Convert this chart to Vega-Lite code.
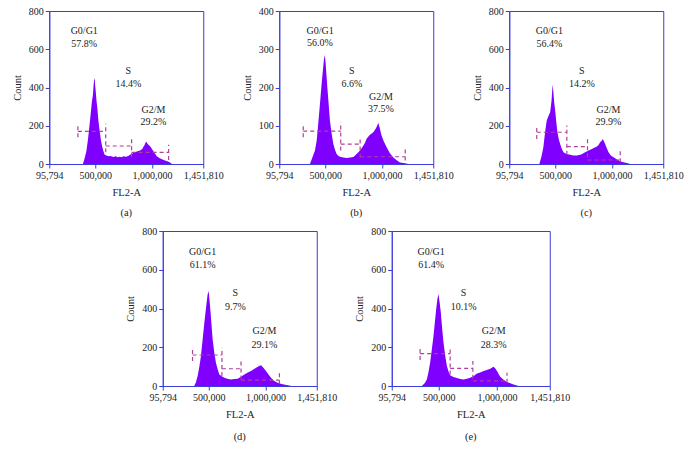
{
  "$schema": "https://vega.github.io/schema/vega-lite/v6.json",
  "description": "Cell cycle histograms, five samples",
  "padding": {"left": 11, "top": 5, "right": 5, "bottom": 5},
  "datasets": {
    "hist": [
      {"p": "a", "x": 392000, "y": 0}, {"p": "a", "x": 405000, "y": 25}, {"p": "a", "x": 422000, "y": 66}, {"p": "a", "x": 437000, "y": 130},
      {"p": "a", "x": 451000, "y": 206}, {"p": "a", "x": 462000, "y": 270}, {"p": "a", "x": 472000, "y": 329}, {"p": "a", "x": 480000, "y": 360},
      {"p": "a", "x": 486000, "y": 410}, {"p": "a", "x": 491000, "y": 440}, {"p": "a", "x": 495000, "y": 450}, {"p": "a", "x": 499000, "y": 420},
      {"p": "a", "x": 505000, "y": 380}, {"p": "a", "x": 512000, "y": 330}, {"p": "a", "x": 519000, "y": 294}, {"p": "a", "x": 528000, "y": 230},
      {"p": "a", "x": 540000, "y": 171}, {"p": "a", "x": 550000, "y": 128}, {"p": "a", "x": 561000, "y": 93}, {"p": "a", "x": 572000, "y": 68},
      {"p": "a", "x": 584000, "y": 49}, {"p": "a", "x": 600000, "y": 45}, {"p": "a", "x": 615000, "y": 40}, {"p": "a", "x": 630000, "y": 42},
      {"p": "a", "x": 643000, "y": 40}, {"p": "a", "x": 660000, "y": 36}, {"p": "a", "x": 680000, "y": 40}, {"p": "a", "x": 700000, "y": 35},
      {"p": "a", "x": 716000, "y": 38}, {"p": "a", "x": 732000, "y": 35}, {"p": "a", "x": 750000, "y": 40}, {"p": "a", "x": 770000, "y": 38},
      {"p": "a", "x": 792000, "y": 42}, {"p": "a", "x": 810000, "y": 50}, {"p": "a", "x": 836000, "y": 58}, {"p": "a", "x": 860000, "y": 64},
      {"p": "a", "x": 880000, "y": 68}, {"p": "a", "x": 895000, "y": 70}, {"p": "a", "x": 915000, "y": 78}, {"p": "a", "x": 925000, "y": 90},
      {"p": "a", "x": 934000, "y": 98}, {"p": "a", "x": 944000, "y": 112}, {"p": "a", "x": 954000, "y": 115}, {"p": "a", "x": 962000, "y": 105},
      {"p": "a", "x": 975000, "y": 98}, {"p": "a", "x": 987000, "y": 90}, {"p": "a", "x": 999000, "y": 80}, {"p": "a", "x": 1020000, "y": 60},
      {"p": "a", "x": 1043000, "y": 40}, {"p": "a", "x": 1065000, "y": 32}, {"p": "a", "x": 1088000, "y": 25}, {"p": "a", "x": 1115000, "y": 18},
      {"p": "a", "x": 1147000, "y": 12}, {"p": "a", "x": 1165000, "y": 5}, {"p": "a", "x": 1176000, "y": 0},

      {"p": "b", "x": 366000, "y": 0}, {"p": "b", "x": 385000, "y": 15}, {"p": "b", "x": 410000, "y": 35}, {"p": "b", "x": 425000, "y": 60},
      {"p": "b", "x": 439000, "y": 105}, {"p": "b", "x": 452000, "y": 150}, {"p": "b", "x": 469000, "y": 210}, {"p": "b", "x": 480000, "y": 245},
      {"p": "b", "x": 490000, "y": 275}, {"p": "b", "x": 498000, "y": 284}, {"p": "b", "x": 505000, "y": 260}, {"p": "b", "x": 512000, "y": 230},
      {"p": "b", "x": 519000, "y": 201}, {"p": "b", "x": 530000, "y": 160}, {"p": "b", "x": 542000, "y": 113}, {"p": "b", "x": 557000, "y": 80},
      {"p": "b", "x": 572000, "y": 52}, {"p": "b", "x": 588000, "y": 36}, {"p": "b", "x": 601000, "y": 26}, {"p": "b", "x": 620000, "y": 20},
      {"p": "b", "x": 640000, "y": 18}, {"p": "b", "x": 660000, "y": 17}, {"p": "b", "x": 690000, "y": 16}, {"p": "b", "x": 720000, "y": 17},
      {"p": "b", "x": 748000, "y": 18}, {"p": "b", "x": 770000, "y": 24}, {"p": "b", "x": 790000, "y": 30}, {"p": "b", "x": 807000, "y": 35},
      {"p": "b", "x": 830000, "y": 45}, {"p": "b", "x": 850000, "y": 55}, {"p": "b", "x": 865000, "y": 66}, {"p": "b", "x": 890000, "y": 75},
      {"p": "b", "x": 910000, "y": 80}, {"p": "b", "x": 924000, "y": 83}, {"p": "b", "x": 945000, "y": 92}, {"p": "b", "x": 958000, "y": 100},
      {"p": "b", "x": 968000, "y": 108}, {"p": "b", "x": 980000, "y": 95}, {"p": "b", "x": 997000, "y": 74}, {"p": "b", "x": 1015000, "y": 60},
      {"p": "b", "x": 1041000, "y": 44}, {"p": "b", "x": 1070000, "y": 28}, {"p": "b", "x": 1100000, "y": 17}, {"p": "b", "x": 1130000, "y": 10},
      {"p": "b", "x": 1159000, "y": 4}, {"p": "b", "x": 1203000, "y": 2}, {"p": "b", "x": 1232000, "y": 0},

      {"p": "c", "x": 361000, "y": 0}, {"p": "c", "x": 380000, "y": 40}, {"p": "c", "x": 396000, "y": 87}, {"p": "c", "x": 412000, "y": 170},
      {"p": "c", "x": 426000, "y": 227}, {"p": "c", "x": 440000, "y": 250}, {"p": "c", "x": 456000, "y": 271}, {"p": "c", "x": 468000, "y": 330},
      {"p": "c", "x": 474000, "y": 385}, {"p": "c", "x": 479000, "y": 415}, {"p": "c", "x": 485000, "y": 370}, {"p": "c", "x": 492000, "y": 320},
      {"p": "c", "x": 500000, "y": 280}, {"p": "c", "x": 510000, "y": 220}, {"p": "c", "x": 520000, "y": 166}, {"p": "c", "x": 532000, "y": 130},
      {"p": "c", "x": 544000, "y": 105}, {"p": "c", "x": 558000, "y": 80}, {"p": "c", "x": 573000, "y": 61}, {"p": "c", "x": 600000, "y": 52},
      {"p": "c", "x": 632000, "y": 49}, {"p": "c", "x": 660000, "y": 45}, {"p": "c", "x": 691000, "y": 44}, {"p": "c", "x": 730000, "y": 50},
      {"p": "c", "x": 764000, "y": 61}, {"p": "c", "x": 795000, "y": 70}, {"p": "c", "x": 823000, "y": 79}, {"p": "c", "x": 845000, "y": 85},
      {"p": "c", "x": 867000, "y": 91}, {"p": "c", "x": 882000, "y": 100}, {"p": "c", "x": 896000, "y": 114}, {"p": "c", "x": 910000, "y": 122},
      {"p": "c", "x": 920000, "y": 131}, {"p": "c", "x": 930000, "y": 118}, {"p": "c", "x": 940000, "y": 105}, {"p": "c", "x": 955000, "y": 82},
      {"p": "c", "x": 970000, "y": 61}, {"p": "c", "x": 990000, "y": 45}, {"p": "c", "x": 1014000, "y": 35}, {"p": "c", "x": 1045000, "y": 24},
      {"p": "c", "x": 1073000, "y": 14}, {"p": "c", "x": 1100000, "y": 9}, {"p": "c", "x": 1132000, "y": 5}, {"p": "c", "x": 1161000, "y": 0},

      {"p": "d", "x": 373000, "y": 0}, {"p": "d", "x": 388000, "y": 20}, {"p": "d", "x": 403000, "y": 52}, {"p": "d", "x": 418000, "y": 100},
      {"p": "d", "x": 432000, "y": 155}, {"p": "d", "x": 447000, "y": 240}, {"p": "d", "x": 462000, "y": 327}, {"p": "d", "x": 472000, "y": 380},
      {"p": "d", "x": 482000, "y": 430}, {"p": "d", "x": 490000, "y": 470}, {"p": "d", "x": 500000, "y": 490}, {"p": "d", "x": 508000, "y": 440},
      {"p": "d", "x": 517000, "y": 379}, {"p": "d", "x": 526000, "y": 310}, {"p": "d", "x": 535000, "y": 241}, {"p": "d", "x": 550000, "y": 170},
      {"p": "d", "x": 564000, "y": 120}, {"p": "d", "x": 580000, "y": 85}, {"p": "d", "x": 594000, "y": 60}, {"p": "d", "x": 615000, "y": 50},
      {"p": "d", "x": 638000, "y": 43}, {"p": "d", "x": 665000, "y": 38}, {"p": "d", "x": 696000, "y": 34}, {"p": "d", "x": 725000, "y": 36},
      {"p": "d", "x": 755000, "y": 38}, {"p": "d", "x": 785000, "y": 48}, {"p": "d", "x": 814000, "y": 60}, {"p": "d", "x": 845000, "y": 70},
      {"p": "d", "x": 873000, "y": 77}, {"p": "d", "x": 900000, "y": 88}, {"p": "d", "x": 932000, "y": 100}, {"p": "d", "x": 950000, "y": 105},
      {"p": "d", "x": 961000, "y": 107}, {"p": "d", "x": 980000, "y": 95}, {"p": "d", "x": 1005000, "y": 77}, {"p": "d", "x": 1027000, "y": 60},
      {"p": "d", "x": 1049000, "y": 43}, {"p": "d", "x": 1070000, "y": 30}, {"p": "d", "x": 1093000, "y": 21}, {"p": "d", "x": 1120000, "y": 14},
      {"p": "d", "x": 1152000, "y": 9}, {"p": "d", "x": 1185000, "y": 5}, {"p": "d", "x": 1211000, "y": 3}, {"p": "d", "x": 1226000, "y": 0},

      {"p": "e", "x": 354000, "y": 0}, {"p": "e", "x": 380000, "y": 15}, {"p": "e", "x": 397000, "y": 34}, {"p": "e", "x": 412000, "y": 75},
      {"p": "e", "x": 425000, "y": 120}, {"p": "e", "x": 440000, "y": 190}, {"p": "e", "x": 454000, "y": 258}, {"p": "e", "x": 466000, "y": 330},
      {"p": "e", "x": 477000, "y": 396}, {"p": "e", "x": 488000, "y": 450}, {"p": "e", "x": 497000, "y": 475}, {"p": "e", "x": 507000, "y": 430},
      {"p": "e", "x": 517000, "y": 379}, {"p": "e", "x": 528000, "y": 300}, {"p": "e", "x": 540000, "y": 224}, {"p": "e", "x": 555000, "y": 155},
      {"p": "e", "x": 569000, "y": 103}, {"p": "e", "x": 583000, "y": 75}, {"p": "e", "x": 597000, "y": 55}, {"p": "e", "x": 625000, "y": 46},
      {"p": "e", "x": 655000, "y": 41}, {"p": "e", "x": 685000, "y": 36}, {"p": "e", "x": 712000, "y": 34}, {"p": "e", "x": 740000, "y": 38},
      {"p": "e", "x": 769000, "y": 43}, {"p": "e", "x": 800000, "y": 52}, {"p": "e", "x": 827000, "y": 65}, {"p": "e", "x": 855000, "y": 70},
      {"p": "e", "x": 884000, "y": 77}, {"p": "e", "x": 912000, "y": 82}, {"p": "e", "x": 941000, "y": 89}, {"p": "e", "x": 958000, "y": 95},
      {"p": "e", "x": 970000, "y": 100}, {"p": "e", "x": 985000, "y": 90}, {"p": "e", "x": 999000, "y": 77}, {"p": "e", "x": 1013000, "y": 62},
      {"p": "e", "x": 1027000, "y": 48}, {"p": "e", "x": 1048000, "y": 36}, {"p": "e", "x": 1070000, "y": 26}, {"p": "e", "x": 1090000, "y": 20},
      {"p": "e", "x": 1113000, "y": 14}, {"p": "e", "x": 1135000, "y": 9}, {"p": "e", "x": 1156000, "y": 5}, {"p": "e", "x": 1185000, "y": 0}
    ],
    "gates": [
      {"p": "a", "x": 348000, "x2": 593000, "y": 171, "y2": 171}, {"p": "a", "x": 348000, "x2": 348000, "y": 140, "y2": 210},
      {"p": "a", "x": 593000, "x2": 593000, "y": 61, "y2": 210}, {"p": "a", "x": 593000, "x2": 821000, "y": 94, "y2": 94},
      {"p": "a", "x": 821000, "x2": 821000, "y": 35, "y2": 136}, {"p": "a", "x": 821000, "x2": 1147000, "y": 61, "y2": 61},
      {"p": "a", "x": 1147000, "x2": 1147000, "y": 21, "y2": 101},

      {"p": "b", "x": 307000, "x2": 637000, "y": 86, "y2": 86}, {"p": "b", "x": 307000, "x2": 307000, "y": 70, "y2": 105},
      {"p": "b", "x": 637000, "x2": 637000, "y": 35, "y2": 109}, {"p": "b", "x": 637000, "x2": 808000, "y": 52, "y2": 52},
      {"p": "b", "x": 808000, "x2": 808000, "y": 17, "y2": 70}, {"p": "b", "x": 808000, "x2": 1205000, "y": 19, "y2": 19},
      {"p": "b", "x": 1205000, "x2": 1205000, "y": 9, "y2": 39},

      {"p": "c", "x": 338000, "x2": 603000, "y": 166, "y2": 166}, {"p": "c", "x": 338000, "x2": 338000, "y": 131, "y2": 201},
      {"p": "c", "x": 603000, "x2": 603000, "y": 49, "y2": 201}, {"p": "c", "x": 603000, "x2": 785000, "y": 91, "y2": 91},
      {"p": "c", "x": 785000, "x2": 785000, "y": 35, "y2": 131}, {"p": "c", "x": 785000, "x2": 1073000, "y": 21, "y2": 21},
      {"p": "c", "x": 1073000, "x2": 1073000, "y": 9, "y2": 70},

      {"p": "d", "x": 358000, "x2": 617000, "y": 160, "y2": 160}, {"p": "d", "x": 358000, "x2": 358000, "y": 129, "y2": 198},
      {"p": "d", "x": 617000, "x2": 617000, "y": 52, "y2": 198}, {"p": "d", "x": 617000, "x2": 785000, "y": 89, "y2": 89},
      {"p": "d", "x": 785000, "x2": 785000, "y": 34, "y2": 129}, {"p": "d", "x": 785000, "x2": 1123000, "y": 30, "y2": 30},
      {"p": "d", "x": 1123000, "x2": 1123000, "y": 9, "y2": 69},

      {"p": "e", "x": 339000, "x2": 597000, "y": 167, "y2": 167}, {"p": "e", "x": 339000, "x2": 339000, "y": 134, "y2": 203},
      {"p": "e", "x": 597000, "x2": 597000, "y": 60, "y2": 203}, {"p": "e", "x": 597000, "x2": 792000, "y": 91, "y2": 91},
      {"p": "e", "x": 792000, "x2": 792000, "y": 38, "y2": 129}, {"p": "e", "x": 792000, "x2": 1085000, "y": 26, "y2": 26},
      {"p": "e", "x": 1085000, "x2": 1085000, "y": 17, "y2": 69}
    ],
    "labels": [
      {"p": "a", "x": 404000, "y": 695, "t": "G0/G1"}, {"p": "a", "x": 404000, "y": 630, "t": "57.8%"},
      {"p": "a", "x": 792000, "y": 486, "t": "S"}, {"p": "a", "x": 792000, "y": 416, "t": "14.4%"},
      {"p": "a", "x": 1014000, "y": 283, "t": "G2/M"}, {"p": "a", "x": 1014000, "y": 217, "t": "29.2%"},
      {"p": "b", "x": 455000, "y": 349, "t": "G0/G1"}, {"p": "b", "x": 455000, "y": 316, "t": "56.0%"},
      {"p": "b", "x": 735000, "y": 243, "t": "S"}, {"p": "b", "x": 735000, "y": 210, "t": "6.6%"},
      {"p": "b", "x": 991000, "y": 176, "t": "G2/M"}, {"p": "b", "x": 991000, "y": 144, "t": "37.5%"},
      {"p": "c", "x": 449000, "y": 695, "t": "G0/G1"}, {"p": "c", "x": 449000, "y": 630, "t": "56.4%"},
      {"p": "c", "x": 735000, "y": 486, "t": "S"}, {"p": "c", "x": 735000, "y": 416, "t": "14.2%"},
      {"p": "c", "x": 970000, "y": 283, "t": "G2/M"}, {"p": "c", "x": 970000, "y": 217, "t": "29.9%"},
      {"p": "d", "x": 447000, "y": 692, "t": "G0/G1"}, {"p": "d", "x": 447000, "y": 623, "t": "61.1%"},
      {"p": "d", "x": 735000, "y": 478, "t": "S"}, {"p": "d", "x": 735000, "y": 410, "t": "9.7%"},
      {"p": "d", "x": 991000, "y": 284, "t": "G2/M"}, {"p": "d", "x": 991000, "y": 210, "t": "29.1%"},
      {"p": "e", "x": 434000, "y": 692, "t": "G0/G1"}, {"p": "e", "x": 434000, "y": 623, "t": "61.4%"},
      {"p": "e", "x": 712000, "y": 478, "t": "S"}, {"p": "e", "x": 712000, "y": 410, "t": "10.1%"},
      {"p": "e", "x": 970000, "y": 284, "t": "G2/M"}, {"p": "e", "x": 970000, "y": 210, "t": "28.3%"}
    ]
  },
  "vconcat": [
    {
      "hconcat": [
        {
          "width": 154, "height": 153, "title": "(a)",
          "encoding": {
            "x": {"field": "x", "type": "quantitative", "scale": {"domain": [95794, 1451810]}, "axis": {"values": [95794, 500000, 1000000, 1451810], "labelExpr": "format(datum.value, ',')", "title": "FL2-A"}},
            "y": {"field": "y", "type": "quantitative", "scale": {"domain": [0, 800]}, "axis": {"values": [0, 200, 400, 600, 800], "tickCount": 5, "labelOverlap": false, "title": "Count"}}
          },
          "layer": [
            {"data": {"name": "hist"}, "transform": [{"filter": "datum.p == 'a'"}], "mark": {"type": "area", "color": "#7f00ff", "clip": true}},
            {"data": {"name": "gates"}, "transform": [{"filter": "datum.p == 'a'"}], "mark": {"type": "rule", "color": "#b0409c", "strokeDash": [4, 3], "strokeWidth": 1.2}, "encoding": {"x2": {"field": "x2"}, "y2": {"field": "y2"}}},
            {"data": {"name": "labels"}, "transform": [{"filter": "datum.p == 'a'"}], "mark": {"type": "text", "font": "Liberation Serif", "fontSize": 10, "color": "#222"}, "encoding": {"text": {"field": "t"}}}
          ]
        },
        {
          "width": 154, "height": 153, "title": "(b)",
          "encoding": {
            "x": {"field": "x", "type": "quantitative", "scale": {"domain": [95794, 1451810]}, "axis": {"values": [95794, 500000, 1000000, 1451810], "labelExpr": "format(datum.value, ',')", "title": "FL2-A"}},
            "y": {"field": "y", "type": "quantitative", "scale": {"domain": [0, 400]}, "axis": {"values": [0, 100, 200, 300, 400], "tickCount": 5, "labelOverlap": false, "title": "Count"}}
          },
          "layer": [
            {"data": {"name": "hist"}, "transform": [{"filter": "datum.p == 'b'"}], "mark": {"type": "area", "color": "#7f00ff", "clip": true}},
            {"data": {"name": "gates"}, "transform": [{"filter": "datum.p == 'b'"}], "mark": {"type": "rule", "color": "#b0409c", "strokeDash": [4, 3], "strokeWidth": 1.2}, "encoding": {"x2": {"field": "x2"}, "y2": {"field": "y2"}}},
            {"data": {"name": "labels"}, "transform": [{"filter": "datum.p == 'b'"}], "mark": {"type": "text", "font": "Liberation Serif", "fontSize": 10, "color": "#222"}, "encoding": {"text": {"field": "t"}}}
          ]
        },
        {
          "width": 154, "height": 153, "title": "(c)",
          "encoding": {
            "x": {"field": "x", "type": "quantitative", "scale": {"domain": [95794, 1451810]}, "axis": {"values": [95794, 500000, 1000000, 1451810], "labelExpr": "format(datum.value, ',')", "title": "FL2-A"}},
            "y": {"field": "y", "type": "quantitative", "scale": {"domain": [0, 800]}, "axis": {"values": [0, 200, 400, 600, 800], "tickCount": 5, "labelOverlap": false, "title": "Count"}}
          },
          "layer": [
            {"data": {"name": "hist"}, "transform": [{"filter": "datum.p == 'c'"}], "mark": {"type": "area", "color": "#7f00ff", "clip": true}},
            {"data": {"name": "gates"}, "transform": [{"filter": "datum.p == 'c'"}], "mark": {"type": "rule", "color": "#b0409c", "strokeDash": [4, 3], "strokeWidth": 1.2}, "encoding": {"x2": {"field": "x2"}, "y2": {"field": "y2"}}},
            {"data": {"name": "labels"}, "transform": [{"filter": "datum.p == 'c'"}], "mark": {"type": "text", "font": "Liberation Serif", "fontSize": 10, "color": "#222"}, "encoding": {"text": {"field": "t"}}}
          ]
        }
      ],
      "spacing": 76,
      "bounds": "flush"
    },
    {
      "hconcat": [
        {
          "width": 154, "height": 155, "title": {"text": "(d)", "offset": 12},
          "encoding": {
            "x": {"field": "x", "type": "quantitative", "scale": {"domain": [95794, 1451810]}, "axis": {"values": [95794, 500000, 1000000, 1451810], "labelExpr": "format(datum.value, ',')", "title": "FL2-A"}},
            "y": {"field": "y", "type": "quantitative", "scale": {"domain": [0, 800]}, "axis": {"values": [0, 200, 400, 600, 800], "tickCount": 5, "labelOverlap": false, "title": "Count"}}
          },
          "layer": [
            {"data": {"name": "hist"}, "transform": [{"filter": "datum.p == 'd'"}], "mark": {"type": "area", "color": "#7f00ff", "clip": true}},
            {"data": {"name": "gates"}, "transform": [{"filter": "datum.p == 'd'"}], "mark": {"type": "rule", "color": "#b0409c", "strokeDash": [4, 3], "strokeWidth": 1.2}, "encoding": {"x2": {"field": "x2"}, "y2": {"field": "y2"}}},
            {"data": {"name": "labels"}, "transform": [{"filter": "datum.p == 'd'"}], "mark": {"type": "text", "font": "Liberation Serif", "fontSize": 10, "color": "#222"}, "encoding": {"text": {"field": "t"}}}
          ]
        },
        {
          "width": 158, "height": 155, "title": {"text": "(e)", "offset": 12},
          "encoding": {
            "x": {"field": "x", "type": "quantitative", "scale": {"domain": [95794, 1451810]}, "axis": {"values": [95794, 500000, 1000000, 1451810], "labelExpr": "format(datum.value, ',')", "title": "FL2-A"}},
            "y": {"field": "y", "type": "quantitative", "scale": {"domain": [0, 800]}, "axis": {"values": [0, 200, 400, 600, 800], "tickCount": 5, "labelOverlap": false, "title": "Count"}}
          },
          "layer": [
            {"data": {"name": "hist"}, "transform": [{"filter": "datum.p == 'e'"}], "mark": {"type": "area", "color": "#7f00ff", "clip": true}},
            {"data": {"name": "gates"}, "transform": [{"filter": "datum.p == 'e'"}], "mark": {"type": "rule", "color": "#b0409c", "strokeDash": [4, 3], "strokeWidth": 1.2}, "encoding": {"x2": {"field": "x2"}, "y2": {"field": "y2"}}},
            {"data": {"name": "labels"}, "transform": [{"filter": "datum.p == 'e'"}], "mark": {"type": "text", "font": "Liberation Serif", "fontSize": 10, "color": "#222"}, "encoding": {"text": {"field": "t"}}}
          ]
        }
      ],
      "spacing": 75,
      "bounds": "flush"
    }
  ],
  "spacing": 6,
  "center": true,
  "config": {
    "view": {"stroke": "#3c3cd8", "strokeWidth": 1},
    "axis": {
      "grid": false,
      "domainColor": "#3c3cd8",
      "tickColor": "#3c3cd8",
      "tickSize": 4,
      "labelFont": "Liberation Serif",
      "labelFontSize": 10,
      "labelColor": "#222",
      "labelOverlap": false,
      "titleFont": "Liberation Serif",
      "titleFontSize": 10.5,
      "titleFontWeight": "normal",
      "titleColor": "#222"
    },
    "axisX": {"labelFlush": false, "titlePadding": 7},
    "axisY": {"titlePadding": 6},
    "title": {"orient": "bottom", "font": "Liberation Serif", "fontSize": 10.5, "fontWeight": "normal", "color": "#222", "offset": 10}
  }
}
